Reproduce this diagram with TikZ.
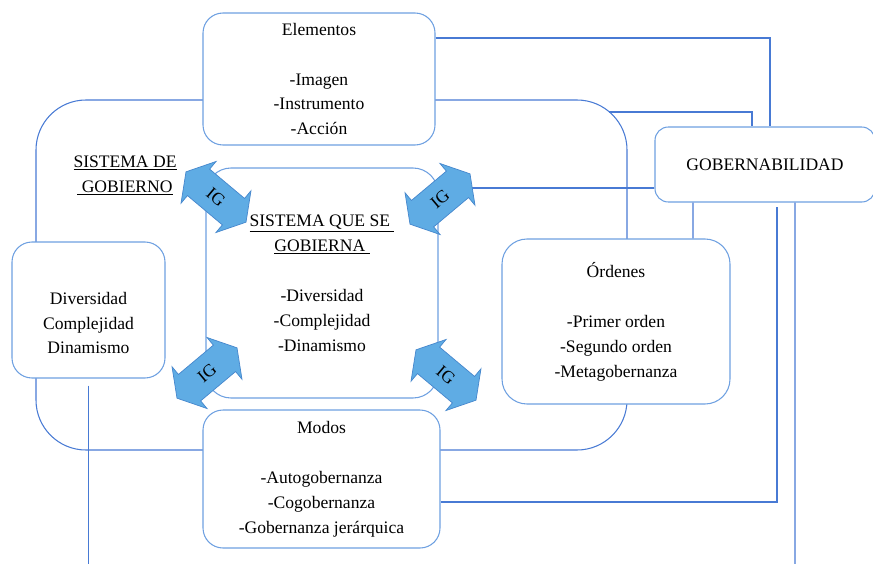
\documentclass[tikz,border=0pt]{standalone}
\usepackage{fontspec}
\setmainfont{Liberation Serif}
\usetikzlibrary{shapes.arrows}
\definecolor{boxblue}{RGB}{110,160,225}
\definecolor{lineblue}{RGB}{72,122,212}
\definecolor{igfill}{RGB}{95,172,228}
\definecolor{igedge}{RGB}{70,135,205}

\begin{document}
\begin{tikzpicture}[
    font=\fontsize{15}{21.3}\selectfont,
    box/.style={draw=boxblue, line width=0.9pt, fill=white, rounded corners=0.6cm, align=center, inner sep=0pt},
    link/.style={draw=lineblue, line width=0.9pt},
    igarrow/.style={double arrow, draw=igedge, fill=igfill, line width=0.6pt, minimum height=2.35cm, inner xsep=1pt, inner ysep=0.33cm, double arrow head extend=0.3cm, double arrow tip angle=118}
  ]
  \useasboundingbox (0,0) rectangle (26.19,-16.89);
  \node[box, draw=lineblue, fill=none, minimum width=17.73cm, minimum height=10.5cm, rounded corners=1.5cm] (sisgob) at (9.945,-8.25) {};
  \node[align=center] (sgtitle) at (3.75,-5.25) {\underline{SISTEMA DE}\\\underline{\ GOBIERNO}};
  \node[box, minimum width=6.96cm, minimum height=3.96cm] (elem) at (9.57,-2.37) {Elementos\\[21.3pt]-Imagen\\-Instrumento\\-Acción};
  \node[box, minimum width=6.96cm, minimum height=6.9cm, rounded corners=0.75cm] (sqsg) at (9.66,-8.49) {\underline{SISTEMA QUE SE\ }\\\underline{GOBIERNA\ }\\[21.3pt]-Diversidad\\-Complejidad\\-Dinamismo};
  \node[box, minimum width=4.59cm, minimum height=4.08cm, label={[align=center, yshift=-0.39cm]center:{Diversidad\\Complejidad\\Dinamismo}}] (divers) at (2.655,-9.3) {};
  \node[box, minimum width=7.11cm, minimum height=4.14cm] (modos) at (9.645,-14.37) {Modos\\[21.3pt]-Autogobernanza\\-Cogobernanza\\-Gobernanza jerárquica};
  \node[box, minimum width=6.84cm, minimum height=4.95cm, rounded corners=0.75cm] (orden) at (18.48,-9.645) {Órdenes\\[21.3pt]-Primer orden\\-Segundo orden\\-Metagobernanza};
  \node[box, minimum width=6.6cm, minimum height=2.25cm, rounded corners=0.4cm] (gob) at (22.95,-4.935) {GOBERNABILIDAD};
  \coordinate (igtlc) at (6.48,-5.91);
  \coordinate (igtrc) at (13.2,-5.97);
  \coordinate (igblc) at (6.21,-11.19);
  \coordinate (igbrc) at (13.38,-11.25);
  \coordinate (arcpt) at (18.27,-3.36);
  \coordinate (gobend) at (23.31,-6.21);
  \coordinate (rbot) at (23.85,-17.0);
  \coordinate (lbot) at (2.655,-17.0);
  \draw[link] ([yshift=1.23cm]elem.east) -| ([xshift=0.15cm]gob.north);
  \draw[link] (arcpt) -| ([xshift=-0.39cm]gob.north);
  \draw[link] ([yshift=-0.705cm]gob.west) -- ([yshift=-0.705cm]gob.west -| igtrc);
  \draw[link] ([xshift=-2.16cm]gob.south) -- ([xshift=2.31cm]orden.north);
  \draw[link] ([yshift=-0.69cm]modos.east) -| (gobend);
  \draw[link] ([xshift=0.9cm]gob.south) -- (rbot);
  \draw[link] ([yshift=-0.21cm]divers.south) -- (lbot);
  \node[igarrow, rotate=-40] (igtl) at (igtlc) {IG};
  \node[igarrow, rotate=40] (igtr) at (igtrc) {IG};
  \node[igarrow, rotate=40] (igbl) at (igblc) {IG};
  \node[igarrow, rotate=-40] (igbr) at (igbrc) {IG};
\end{tikzpicture}
\end{document}
